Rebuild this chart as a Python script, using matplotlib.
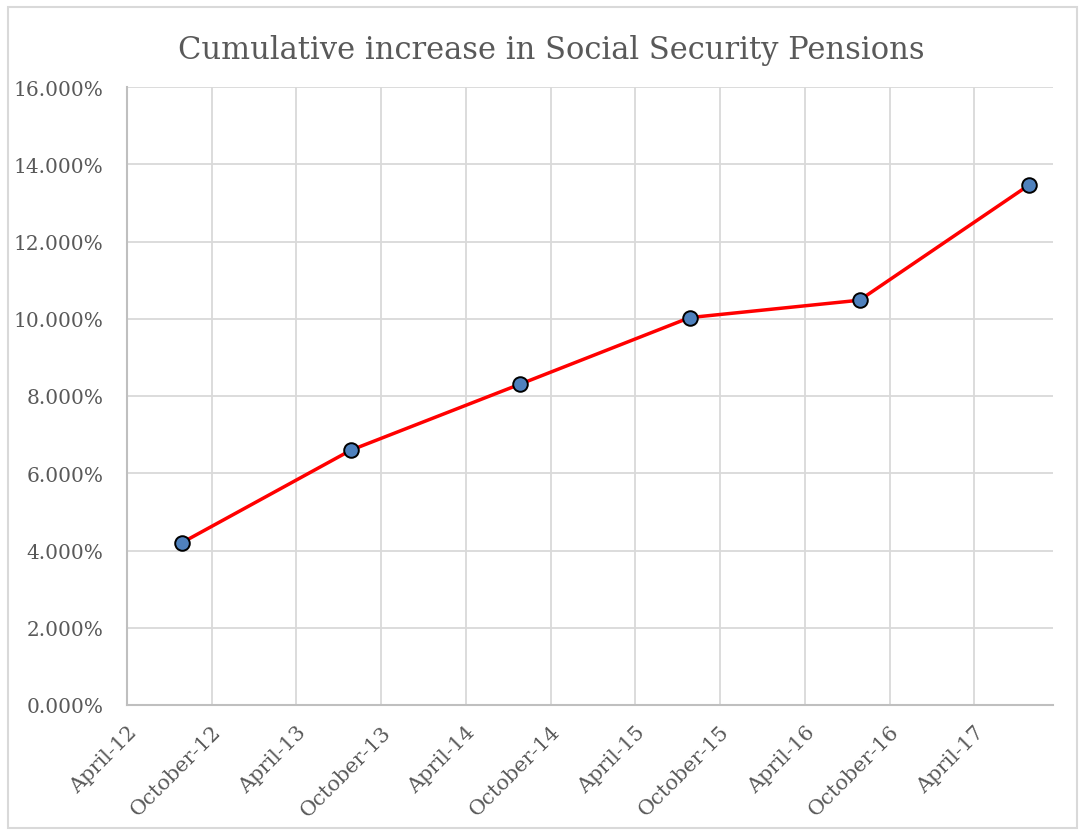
"""
Cumulative increase in Social Security Pensions, line chart
"""
import datetime as dt
import matplotlib.pyplot as plt
from matplotlib.patches import Rectangle
from matplotlib.ticker import FuncFormatter

# data (one point per year)
DATES = ["2012-07-28", "2013-07-28", "2014-07-28", "2015-07-28", "2016-07-28", "2017-07-28"]
CUM_INCREASE = [4.20, 6.60, 8.31, 10.03, 10.48, 13.46]  # percent

TITLE = "Cumulative increase in Social Security Pensions"
X_START = "2012-04-01"
X_END = "2017-09-18"
TICK_DATES = ["2012-04-01", "2012-10-01", "2013-04-01", "2013-10-01", "2014-04-01",
              "2014-10-01", "2015-04-01", "2015-10-01", "2016-04-01", "2016-10-01",
              "2017-04-01"]

GRID = "#d9d9d9"
AXIS = "#bfbfbf"
TEXT = "#595959"

plt.rcParams["font.family"] = ["DejaVu Serif"]


def to_date(s: str) -> dt.datetime:
    return dt.datetime.strptime(s, "%Y-%m-%d")


fig = plt.figure(figsize=(10.85, 8.37), dpi=100)
ax = fig.add_axes([127 / 1085, 1 - 706 / 837, (1053 - 127) / 1085, (706 - 88) / 837])

# outer chart border
fig.patches.append(Rectangle((8 / 1085, 1 - 829 / 837), 1069 / 1085, 821 / 837,
                             transform=fig.transFigure, fill=False,
                             edgecolor=GRID, linewidth=1.5))

x = [to_date(d) for d in DATES]
ax.plot(x, CUM_INCREASE, color="#ff0000", linewidth=2.5, zorder=3,
        marker="o", markersize=10.5, markerfacecolor="#4f81bd",
        markeredgecolor="black", markeredgewidth=1.4)

ax.set_xlim(to_date(X_START), to_date(X_END))
ax.set_ylim(0, 16)
ax.set_yticks(range(0, 17, 2))
ax.yaxis.set_major_formatter(FuncFormatter(lambda v, _: f"{v:.3f}%"))

ticks = [to_date(d) for d in TICK_DATES]
ax.set_xticks(ticks)
ax.set_xticklabels([t.strftime("%B-%y") for t in ticks], rotation=45,
                   ha="right", va="top", rotation_mode="anchor")

ax.grid(True, color=GRID, linewidth=1.3, zorder=0)
ax.set_axisbelow(True)
for side in ("top", "right"):
    ax.spines[side].set_visible(False)
for side in ("left", "bottom"):
    ax.spines[side].set_color(AXIS)
    ax.spines[side].set_linewidth(1.5)

ax.tick_params(axis="both", length=0, labelcolor=TEXT)
ax.tick_params(axis="y", pad=17, labelsize=14.5)
ax.tick_params(axis="x", pad=12, labelsize=15)

fig.text(551 / 1085, 1 - 50 / 837, TITLE, ha="center", va="center",
         fontsize=22, color=TEXT)

fig.savefig("out.png", dpi=100)
